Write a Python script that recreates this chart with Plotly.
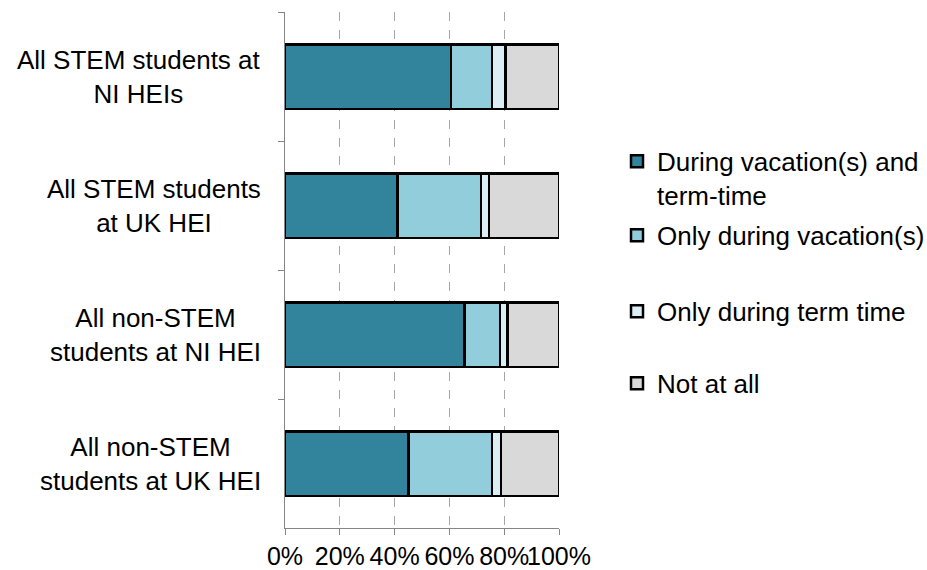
import plotly.graph_objects as go

# Share of students in each group by when they worked (percent)
groups = [
    "All STEM students at<br>NI HEIs",
    "All STEM students<br>at UK HEI",
    "All non-STEM<br>students at NI HEI",
    "All non-STEM<br>students at UK HEI",
]
series_names = [
    "During vacation(s) and<br>term-time",
    "Only during vacation(s)",
    "Only during term time",
    "Not at all",
]
vac_and_term = [60.5, 41.0, 65.5, 45.0]
only_vacation = [15.0, 30.5, 13.0, 30.5]
only_term = [5.0, 3.0, 2.7, 3.3]
not_at_all = [19.5, 25.5, 18.8, 21.2]

series_values = [vac_and_term, only_vacation, only_term, not_at_all]
colors = ["#31849B", "#92CDDC", "#DAEEF3", "#D9D9D9"]
legend_ids = ["legend", "legend2", "legend3", "legend4"]

x_ticks = [0, 20, 40, 60, 80, 100]
x_tick_text = ["0%", "20%", "40%", "60%", "80%", "100%"]

FONT = "Liberation Sans, Arial, sans-serif"

fig = go.Figure()
for name, vals, col, lg in zip(series_names, series_values, colors, legend_ids):
    fig.add_trace(go.Bar(
        y=groups, x=vals, name=name, orientation="h",
        marker=dict(color=col, line=dict(color="#000000", width=2.5)),
        legend=lg,
    ))

# Category labels, centred line by line to the left of the axis
for g in groups:
    fig.add_annotation(
        x=0, xref="paper", y=g, yref="y", text=g, showarrow=False,
        xanchor="right", yanchor="middle", align="center", xshift=-22,
        font=dict(family=FONT, size=26, color="#000000"),
    )

legend_y = [0.756, 0.6127, 0.4654, 0.3259]
legend_layout = {}
for lg, ly in zip(legend_ids, legend_y):
    legend_layout[lg] = dict(
        x=1.2117, y=ly, xanchor="left", yanchor="top", valign="top",
        font=dict(family=FONT, size=26, color="#000000"),
        bgcolor="rgba(0,0,0,0)", borderwidth=0,
    )

fig.update_layout(
    width=927, height=570,
    margin=dict(l=285, r=368, t=12, b=42, autoexpand=False),
    paper_bgcolor="#FFFFFF", plot_bgcolor="#FFFFFF",
    barmode="stack", bargap=0.5,
    font=dict(family=FONT, size=26, color="#000000"),
    showlegend=True,
    **legend_layout,
)
fig.update_xaxes(
    range=[0, 100], tickvals=x_ticks, ticktext=x_tick_text, tickangle=0,
    tickfont=dict(family=FONT, size=25, color="#000000"),
    showgrid=True, gridcolor="#A6A6A6", griddash="dash", gridwidth=1,
    showline=True, linecolor="#868686", linewidth=1,
    ticks="outside", ticklen=6, tickcolor="#868686",
    zeroline=False, fixedrange=True, automargin=False,
)
fig.update_yaxes(
    autorange="reversed", showticklabels=False,
    showline=True, linecolor="#868686", linewidth=1,
    ticks="outside", ticklen=6, tickcolor="#868686", tickson="boundaries",
    showgrid=False, zeroline=False, fixedrange=True, automargin=False,
)

fig.write_html("out.html")
